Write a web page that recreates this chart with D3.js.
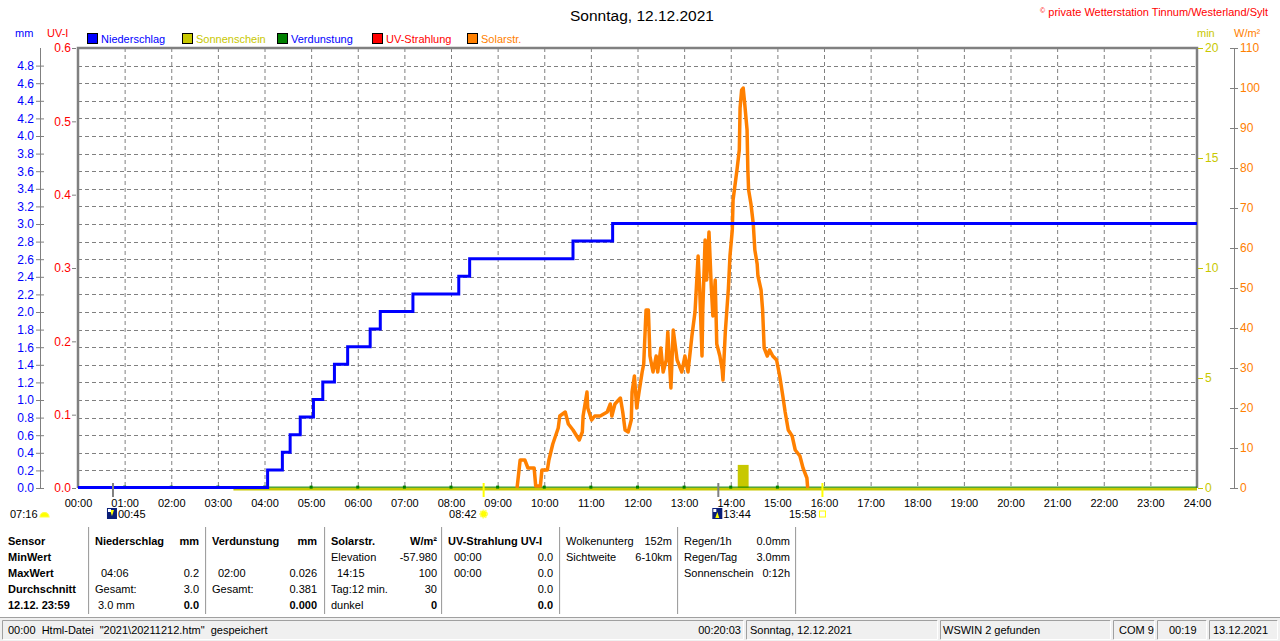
<!DOCTYPE html>
<html lang="de">
<head>
<meta charset="UTF-8">
<title>Sonntag, 12.12.2021</title>
<script src="https://d3js.org/d3.v7.min.js"></script>
<style>
body { margin: 0; background: #fff; }
svg { display: block; font-family: "Liberation Sans", Arial, sans-serif; }
.grid line { stroke: #808080; stroke-width: 1; stroke-dasharray: 4,3; }
.tbl text, .status text { font-size: 11px; fill: #000; }
.b { font-weight: bold; }
</style>
</head>
<body>
<svg id="chart" width="1280" height="641"></svg>
<script>
// ---- data ----
const hourLabels = ["00:00","01:00","02:00","03:00","04:00","05:00","06:00","07:00","08:00","09:00","10:00","11:00","12:00",
  "13:00","14:00","15:00","16:00","17:00","18:00","19:00","20:00","21:00","22:00","23:00","24:00"];
const mmTicks = [0,0.2,0.4,0.6,0.8,1.0,1.2,1.4,1.6,1.8,2.0,2.2,2.4,2.6,2.8,3.0,3.2,3.4,3.6,3.8,4.0,4.2,4.4,4.6,4.8];
const uvTicks = [0,0.1,0.2,0.3,0.4,0.5,0.6];
const minTicks = [0,5,10,15,20];
const wTicks = [0,10,20,30,40,50,60,70,80,90,100,110];

const legendNames = ["Niederschlag","Sonnenschein","Verdunstung","UV-Strahlung","Solarstr."];
const legendFill = ["#0000ff","#c8c800","#008000","#ff0000","#ff8000"];
const legendText = ["#0000ff","#c8c800","#0000ff","#ff0000","#ff8000"];

// Niederschlag (mm, cumulative, step)
const rainTimes = ["00:00","04:04","04:23","04:33","04:46","05:03","05:15","05:30","05:47","06:16","06:29","07:11","08:10","08:24","10:37","11:28","24:00"];
const rainValues = [0,0.2,0.4,0.6,0.8,1.0,1.2,1.4,1.6,1.8,2.0,2.2,2.4,2.6,2.8,3.0,3.0];

// Solarstrahlung (W/m²)
const solarTimes = ["09:25","09:29","09:35","09:39","09:47","09:49","09:55","09:57","10:04","10:06","10:11","10:18","10:20","10:27","10:31","10:37",
  "10:45","10:49","10:50","10:55","10:56","11:01","11:05","11:12","11:21","11:25","11:27","11:31","11:38","11:41","11:44","11:48","11:52","11:53",
  "11:56","11:59","12:02","12:06","12:08","12:11","12:14","12:16","12:20","12:24","12:26","12:30","12:33","12:37","12:39","12:43","12:46","12:51",
  "12:57","13:01","13:05","13:10","13:14","13:18","13:20","13:23","13:24","13:27","13:29","13:32","13:35","13:37","13:40","13:42","13:46","13:49",
  "13:50","13:53","13:55","13:57","13:59","14:02","14:03","14:05","14:08","14:11","14:12","14:14","14:16","14:18","14:21","14:22","14:23","14:26",
  "14:29","14:31","14:34","14:35","14:39","14:41","14:43","14:47","14:50","14:54","14:59","15:03","15:07","15:10","15:14","15:19","15:23","15:29",
  "15:33","15:38","15:39"];
const solarValues = [0,7,7,5,5,0.5,0.5,4.5,4.5,7,11,15,18,19,16,14.5,
  12,14,18,24,20,17,18,18,19,21,18,21,22.5,19,14.5,14,17,24,
  28,20,24,29,31,44.5,44.5,33,29,33,29,35,29,32,39,25,39.5,32,
  29,33,29,38,44,58,50,33,44.5,62,52,64,50,43,52,36,33,29.5,
  27,39,44.5,50,58,64.5,72,75,79.5,84.5,95,99.5,100,96,89.5,79.5,74.5,71,
  66,59.5,56,53,49.5,44.5,35,33,34.5,33,32,28,23,19,14.5,13,9.5,8,
  5,2.5,0];

// Sonnenschein (min)
const sunLineTimes = ["03:20","24:00"];
const sunLineValues = [0,0];
const sunBarFrom = ["14:09"];
const sunBarTo = ["14:23"];
const sunBarValues = [1.05];

// Verdunstung (mm)
const evapTimes = ["00:00","01:00","02:00","03:00","04:00","05:00","06:00","07:00","08:00","09:00","10:00","11:00","12:00","13:00","14:00","15:00","24:00"];
const evapValues = [0.01,0.01,0.01,0.01,0.01,0.01,0.01,0.01,0.01,0.01,0.01,0.01,0.01,0.01,0.01,0.01,0.01];
const evapDots = ["01:00","02:00","03:00","04:00","05:00","06:00","07:00","08:00","09:00","10:00","11:00","12:00","13:00","14:00","15:00"];

// Astro events below the time axis
const astroTimes = ["00:45","08:42","13:44","15:58"];
const astroKinds = ["moonrise","sunrise","moonset","sunset"];
const dayLength = "07:16";

// Table below the chart
const tableLeft = [
  ["Sensor","MinWert","MaxWert","Durchschnitt","12.12. 23:59"],
  ["Niederschlag","","04:06","Gesamt:","3.0 mm"],
  ["Verdunstung","","02:00","Gesamt:",""],
  ["Solarstr.","Elevation","14:15","Tag:12 min.","dunkel"],
  ["UV-Strahlung UV-I","00:00","00:00","",""],
  ["Wolkenunterg","Sichtweite","","",""],
  ["Regen/1h","Regen/Tag","Sonnenschein","",""]
];
const tableRight = [
  ["","","","",""],
  ["mm","","0.2","3.0","0.0"],
  ["mm","","0.026","0.381","0.000"],
  ["W/m²","-57.980","100","30","0"],
  ["","0.0","0.0","0.0","0.0"],
  ["152m","6-10km","","",""],
  ["0.0mm","3.0mm","0:12h","",""]
];
const statusTexts = ["00:00  Html-Datei  \"2021\\20211212.htm\"  gespeichert","Sonntag, 12.12.2021","WSWIN 2 gefunden","COM 9","00:19","13.12.2021"];
const statusTime = "00:20:03";

// ---- drawing ----
const svg = d3.select("#chart");
const toMin = s => { const p = s.split(":").map(Number); return p[0] * 60 + p[1]; };

const pLeft = 78, pRight = 1197, pTop = 48, pBottom = 488;
const x = d3.scaleLinear().domain([0, 1440]).range([pLeft, pRight]);
const yMm = d3.scaleLinear().domain([0, 5]).range([pBottom, pTop]);
const yUv = d3.scaleLinear().domain([0, 0.6]).range([pBottom, pTop]);
const yMin = d3.scaleLinear().domain([0, 20]).range([pBottom, pTop]);
const yW = d3.scaleLinear().domain([0, 110]).range([pBottom, pTop]);

// title and header texts
svg.append("text").attr("x", 642).attr("y", 21).attr("text-anchor", "middle")
  .attr("font-size", 15.5).text("Sonntag, 12.12.2021");
const copy = svg.append("text").attr("x", 1268).attr("y", 16).attr("text-anchor", "end")
  .attr("font-size", 11).attr("fill", "#ff0000");
copy.append("tspan").attr("font-size", 7).attr("dy", -3).text("©");
copy.append("tspan").attr("dy", 3).text(" private Wetterstation Tinnum/Westerland/Sylt");

svg.append("text").attr("x", 15).attr("y", 37).attr("font-size", 11).attr("fill", "#0000ff").text("mm");
svg.append("text").attr("x", 47).attr("y", 37).attr("font-size", 11).attr("fill", "#ff0000").text("UV-I");
svg.append("text").attr("x", 1197).attr("y", 37).attr("font-size", 11).attr("fill", "#c8c800").text("min");
svg.append("text").attr("x", 1234).attr("y", 37).attr("font-size", 11).attr("fill", "#ff8000").text("W/m²");

// legend
const leg = svg.append("g").selectAll("g").data(legendNames).join("g")
  .attr("transform", (d, i) => `translate(${87 + i * 95},33)`);
leg.append("rect").attr("width", 10).attr("height", 10).attr("x", 0.5).attr("y", 0.5)
  .attr("fill", (d, i) => legendFill[i]).attr("stroke", "#000");
leg.append("text").attr("x", 14).attr("y", 9.5).attr("font-size", 11)
  .attr("fill", (d, i) => legendText[i]).text(d => d);

// grid
const grid = svg.append("g").attr("class", "grid");
grid.selectAll(".v").data(hourLabels.slice(1, -1)).join("line").attr("class", "v")
  .attr("x1", d => x(toMin(d)) + 0.5).attr("x2", d => x(toMin(d)) + 0.5)
  .attr("y1", pTop).attr("y2", pBottom);
grid.selectAll(".h").data(mmTicks.slice(1)).join("line").attr("class", "h")
  .attr("x1", pLeft).attr("x2", pRight)
  .attr("y1", d => Math.round(yMm(d)) + 0.5).attr("y2", d => Math.round(yMm(d)) + 0.5);

// frame
svg.append("path").attr("fill", "none").attr("stroke", "#808080").attr("stroke-width", 2.5)
  .attr("d", `M${pLeft},${pBottom}V${pTop}H${pRight}V${pBottom}`);

// axes
function styleAxis(g, color, tickColor) {
  g.attr("font-family", null).attr("font-size", 12);
  g.selectAll("text").attr("fill", color);
  g.selectAll("line").attr("stroke", tickColor);
  g.select(".domain").attr("stroke", tickColor);
}
svg.append("g").attr("transform", "translate(40,0)")
  .call(d3.axisLeft(yMm).tickValues(mmTicks).tickFormat(d3.format(".1f")).tickSize(4).tickPadding(2).tickSizeOuter(0))
  .call(g => styleAxis(g, "#0000ff", "#808080"))
  .call(g => g.selectAll(".tick line").attr("x1", 4))
  .call(g => g.select(".domain").attr("d", `M0.5,${pBottom}V${pTop}`));

svg.append("g").attr("transform", "translate(76,0)")
  .call(d3.axisLeft(yUv).tickValues(uvTicks).tickFormat(d3.format(".1f")).tickSize(4).tickPadding(1).tickSizeOuter(0))
  .call(g => styleAxis(g, "#ff0000", "#808080"))
  .call(g => g.select(".domain").remove());

svg.append("g").attr("transform", "translate(1198,0)")
  .call(d3.axisRight(yMin).tickValues(minTicks).tickSize(5).tickPadding(2).tickSizeOuter(0))
  .call(g => styleAxis(g, "#c8c800", "#c8c800"))
  .call(g => g.select(".domain").remove());

svg.append("g").attr("transform", "translate(1234,0)")
  .call(d3.axisRight(yW).tickValues(wTicks).tickSize(4).tickPadding(2).tickSizeOuter(0))
  .call(g => styleAxis(g, "#ff8000", "#808080"))
  .call(g => g.selectAll(".tick line").attr("x1", -4))
  .call(g => g.select(".domain").attr("d", `M0.5,${pBottom}V${pTop}`));

svg.append("g").attr("transform", `translate(0,${pBottom})`)
  .call(d3.axisBottom(x).tickValues(hourLabels.map(toMin)).tickFormat((d, i) => hourLabels[i]).tickSize(0).tickPadding(11))
  .call(g => { g.attr("font-family", null).attr("font-size", 11); g.selectAll("text").attr("fill", "#000"); })
  .call(g => g.select(".domain").remove());

// series: Sonnenschein
svg.append("path")
  .datum(sunLineTimes.map((t, i) => [toMin(t), sunLineValues[i]]))
  .attr("fill", "none").attr("stroke", "#c8c800").attr("stroke-width", 3)
  .attr("transform", "translate(0,1)")
  .attr("d", d3.line().x(d => x(d[0])).y(d => yMin(d[1])));
svg.append("g").selectAll("rect").data(sunBarValues).join("rect")
  .attr("x", (d, i) => x(toMin(sunBarFrom[i])))
  .attr("width", (d, i) => x(toMin(sunBarTo[i])) - x(toMin(sunBarFrom[i])))
  .attr("y", d => yMin(d)).attr("height", d => yMin(0) - yMin(d))
  .attr("fill", "#c8c800");

// series: Verdunstung
svg.append("path")
  .datum(evapTimes.map((t, i) => [toMin(t), evapValues[i]]))
  .attr("fill", "none").attr("stroke", "#008000").attr("stroke-width", 1)
  .attr("d", d3.line().x(d => x(d[0])).y(d => yMm(d[1])));
svg.append("g").selectAll("rect").data(evapDots).join("rect")
  .attr("x", d => x(toMin(d)) - 1.5).attr("y", d => yMm(evapValues[evapTimes.indexOf(d)]) - 1.5)
  .attr("width", 3).attr("height", 3).attr("fill", "#008000");

// series: Solarstrahlung
svg.append("path")
  .datum(solarTimes.map((t, i) => [toMin(t), solarValues[i]]))
  .attr("fill", "none").attr("stroke", "#ff8000").attr("stroke-width", 3.5)
  .attr("stroke-linejoin", "round")
  .attr("d", d3.line().x(d => x(d[0])).y(d => yW(d[1])));

// series: Niederschlag
svg.append("path")
  .datum(rainTimes.map((t, i) => [toMin(t), rainValues[i]]))
  .attr("fill", "none").attr("stroke", "#0000ff").attr("stroke-width", 3)
  .attr("d", d3.line().curve(d3.curveStepAfter).x(d => x(d[0])).y(d => yMm(d[1]) - 0.5));

// astro markers
const astro = svg.append("g");
astroTimes.forEach((t, i) => {
  const cx = x(toMin(t));
  const kind = astroKinds[i];
  const isSun = kind.startsWith("sun");
  astro.append("line").attr("x1", cx).attr("x2", cx).attr("y1", 483).attr("y2", 497)
    .attr("stroke", isSun ? "#ffff00" : "#808080").attr("stroke-width", 2);
  if (kind === "moonrise" || kind === "moonset") {
    astro.append("rect").attr("x", cx - 6).attr("y", 508).attr("width", 10).attr("height", 11).attr("fill", "#0a1e78");
    astro.append("path").attr("d", `M${cx - 3},${kind === "moonrise" ? 510 : 518}l2,${kind === "moonrise" ? 6 : -6}l2,${kind === "moonrise" ? -6 : 6}z`)
      .attr("fill", "#ffff00");
    astro.append("rect").attr("x", cx - 5).attr("y", 509).attr("width", 3).attr("height", 3).attr("fill", "#ffffff");
    astro.append("text").attr("x", cx + 5).attr("y", 518).attr("font-size", 11).text(t);
  } else if (kind === "sunrise") {
    astro.append("circle").attr("cx", cx).attr("cy", 514).attr("r", 3.5).attr("fill", "#ffff00")
      .attr("stroke", "#ffff60").attr("stroke-width", 2).attr("stroke-dasharray", "1.5,1");
    astro.append("text").attr("x", cx - 7).attr("y", 518).attr("text-anchor", "end").attr("font-size", 11).text(t);
  } else {
    astro.append("rect").attr("x", cx - 3).attr("y", 511).attr("width", 6).attr("height", 6)
      .attr("fill", "#fff").attr("stroke", "#ffff00");
    astro.append("text").attr("x", cx - 6).attr("y", 518).attr("text-anchor", "end").attr("font-size", 11).text(t);
  }
});
astro.append("text").attr("x", 10).attr("y", 518).attr("font-size", 11).text(dayLength);
astro.append("path").attr("d", "M40,517A4.5,4.5 0 0 1 49,517Z").attr("fill", "#ffff00")
  .attr("stroke", "#ffff40").attr("stroke-width", 1.2);

// table
const colEdges = [0, 88, 205, 324, 441, 559, 677, 795];
const colLeftX = [8, 95, 212, 331, 448, 566, 684];
const colRightX = [0, 199, 317, 437, 553, 672, 790];
const rowY = [545, 561, 577, 593, 609];
const tbl = svg.append("g").attr("class", "tbl");
colEdges.slice(1).forEach(ex => {
  tbl.append("line").attr("x1", ex + 0.5).attr("x2", ex + 0.5).attr("y1", 527).attr("y2", 614).attr("stroke", "#a0a0a0");
  tbl.append("line").attr("x1", ex + 1.5).attr("x2", ex + 1.5).attr("y1", 527).attr("y2", 614).attr("stroke", "#f4f4f4");
});
tableLeft.forEach((col, c) => {
  col.forEach((txt, r) => {
    if (!txt) return;
    const indent = /^\d\d:\d\d$/.test(txt) ? 6 : (txt === "3.0 mm" ? 3 : 0);
    tbl.append("text").attr("x", colLeftX[c] + indent).attr("y", rowY[r])
      .attr("class", (c === 0 || (r === 0 && c < 5)) ? "b" : null).text(txt);
  });
});
tableRight.forEach((col, c) => {
  col.forEach((txt, r) => {
    if (!txt) return;
    tbl.append("text").attr("x", colRightX[c]).attr("y", rowY[r]).attr("text-anchor", "end")
      .attr("class", ((r === 0 && c < 5) || (r === 4 && c < 5)) ? "b" : null).text(txt);
  });
});

// status bar
const st = svg.append("g").attr("class", "status");
st.append("rect").attr("x", 0).attr("y", 617).attr("width", 1280).attr("height", 24).attr("fill", "#f0f0f0");
st.append("line").attr("x1", 0).attr("x2", 1280).attr("y1", 617.5).attr("y2", 617.5).attr("stroke", "#a0a0a0");
const panelX = [2, 746, 940, 1113, 1157, 1209];
const panelEnd = [744, 938, 1111, 1155, 1207, 1278];
const textPad = [6, 4, 3, 6, 12, 4];
statusTexts.forEach((txt, i) => {
  const x0 = panelX[i], x1 = panelEnd[i];
  st.append("path").attr("fill", "none").attr("stroke", "#a0a0a0")
    .attr("d", `M${x0 + 0.5},${639.5}V${620.5}H${x1 - 0.5}`);
  st.append("path").attr("fill", "none").attr("stroke", "#ffffff")
    .attr("d", `M${x1 - 0.5},${620.5}V${639.5}H${x0 + 0.5}`);
  st.append("text").attr("x", x0 + textPad[i]).attr("y", 634).style("white-space", "pre").text(txt);
});
st.append("text").attr("x", 741).attr("y", 634).attr("text-anchor", "end").text(statusTime);
</script>
</body>
</html>
